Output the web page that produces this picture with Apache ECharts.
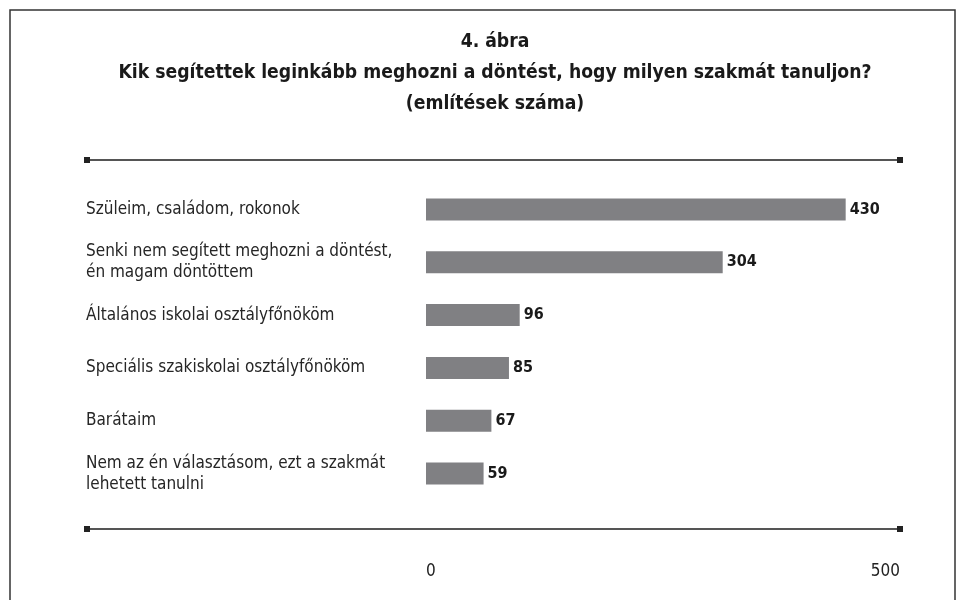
<!DOCTYPE html>
<html>
<head>
<meta charset="utf-8">
<script src="https://cdn.jsdelivr.net/npm/echarts@6/dist/echarts.min.js"></script>
<style>
html,body{margin:0;padding:0;background:#fff;}
#chart{width:967px;height:600px;}
</style>
</head>
<body>
<div id="chart"></div>
<script>
const titleLines = ['4. ábra', 'Kik segítettek leginkább meghozni a döntést, hogy milyen szakmát tanuljon?', '(említések száma)'];
const categories = [
  'Szüleim, családom, rokonok',
  'Senki nem segített meghozni a döntést,\nén magam döntöttem',
  'Általános iskolai osztályfőnököm',
  'Speciális szakiskolai osztályfőnököm',
  'Barátaim',
  'Nem az én választásom, ezt a szakmát\nlehetett tanulni'
];
const values = [430, 304, 96, 85, 67, 59];
const xTicks = [0, 500];

const FONT = "'Liberation Sans Narrow', 'DejaVu Sans Condensed', sans-serif";
const chart = echarts.init(document.getElementById('chart'), null, {renderer: 'canvas'});

function rule(y) {
  return [
    {type: 'line', shape: {x1: 86, y1: y, x2: 900, y2: y}, style: {stroke: '#555', lineWidth: 2}},
    {type: 'rect', shape: {x: 84, y: y - 3, width: 6, height: 6}, style: {fill: '#222'}},
    {type: 'rect', shape: {x: 897, y: y - 3, width: 6, height: 6}, style: {fill: '#222'}}
  ];
}

chart.setOption({
  backgroundColor: '#fff',
  animation: false,
  title: {
    text: titleLines.join('\n'),
    left: 490,
    textAlign: 'center',
    top: 22,
    textStyle: {fontFamily: FONT, fontWeight: 'bold', fontSize: 19.2, lineHeight: 31, color: '#1a1a1a'}
  },
  graphic: [
    {type: 'rect', shape: {x: 10, y: 10, width: 945, height: 620}, style: {fill: 'none', stroke: '#333', lineWidth: 1.5}},
    ...rule(160),
    ...rule(529)
  ],
  grid: [
    {left: 426, width: 488, top: 183, height: 317},
    {left: 426, width: 474, top: 555, height: 1}
  ],
  xAxis: [
    {gridIndex: 0, type: 'value', min: 0, max: 500, show: false, splitLine: {show: false}},
    {gridIndex: 1, type: 'value', min: xTicks[0], max: xTicks[1], interval: xTicks[1] - xTicks[0],
     axisLine: {show: false}, axisTick: {show: false}, splitLine: {show: false},
     axisLabel: {margin: 7, fontFamily: FONT, fontSize: 17, color: '#222', alignMinLabel: 'left', alignMaxLabel: 'right'}}
  ],
  yAxis: [
    {gridIndex: 0, type: 'category', data: categories, inverse: true,
     axisLine: {show: false}, axisTick: {show: false},
     axisLabel: {align: 'left', margin: 340, fontFamily: FONT, fontSize: 17, lineHeight: 21, color: '#262626'}},
    {gridIndex: 1, type: 'category', data: [''], show: false}
  ],
  series: [{
    type: 'bar',
    xAxisIndex: 0, yAxisIndex: 0,
    data: values,
    barWidth: 22,
    itemStyle: {color: '#808083'},
    label: {show: true, position: 'right', distance: 4, fontFamily: FONT, fontWeight: 'bold', fontSize: 16, color: '#1a1a1a'}
  }]
});
</script>
</body>
</html>
